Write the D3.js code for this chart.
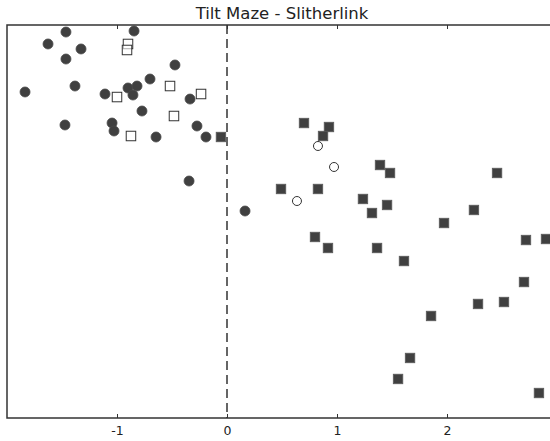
<!DOCTYPE html>
<html>
<head>
<meta charset="utf-8">
<script src="https://cdn.jsdelivr.net/npm/d3@7"></script>
<style>
  body { margin: 0; background: #fff; }
  text { font-family: "DejaVu Sans", sans-serif; fill: #222; }
</style>
</head>
<body>
<div id="chart"></div>
<script>
var width = 550;
var height = 441;

// [x, y] pairs
var filledCircles = [
    [-1.464, 6.875], [-0.845, 6.893], [-1.627, 6.662], [-1.327, 6.573],
    [-1.464, 6.394], [-0.473, 6.288], [-1.836, 5.807], [-1.382, 5.913],
    [-1.109, 5.771], [-0.900, 5.878], [-0.818, 5.913], [-0.700, 6.038],
    [-0.855, 5.753], [-0.336, 5.681], [-0.773, 5.468], [-1.473, 5.219],
    [-1.045, 5.254], [-1.027, 5.112], [-0.645, 5.005], [-0.273, 5.201],
    [-0.191, 5.005], [-0.345, 4.221], [0.164, 3.687]
];
var openSquares = [
    [-0.900, 6.662], [-0.909, 6.555], [-0.518, 5.913], [-0.236, 5.771],
    [-1.000, 5.717], [-0.482, 5.379], [-0.873, 5.023]
];
var filledSquares = [
    [-0.055, 5.005], [0.700, 5.254], [0.927, 5.183], [0.873, 5.023],
    [1.391, 4.506], [1.482, 4.364], [2.455, 4.364], [0.491, 4.079],
    [0.827, 4.079], [1.236, 3.901], [1.455, 3.794], [1.318, 3.651],
    [2.245, 3.705], [1.973, 3.473], [0.800, 3.224], [0.918, 3.028],
    [1.364, 3.028], [1.609, 2.796], [2.718, 3.170], [2.900, 3.188],
    [2.700, 2.422], [1.855, 1.817], [2.282, 2.031], [2.518, 2.066],
    [1.664, 1.069], [1.555, 0.695], [2.836, 0.445]
];
var openCircles = [
    [0.827, 4.845], [0.973, 4.471], [0.636, 3.865]
];
var xTicks = [-1, 0, 1, 2];
var title = "Tilt Maze - Slitherlink";

var margin = {left: 7, right: 557, top: 25, bottom: 418};

var x = d3.scaleLinear().domain([-2, 3]).range([margin.left, margin.right]);
var y = d3.scaleLinear().domain([0, 7]).range([margin.bottom, margin.top]);

var svg = d3.select("#chart")
    .append("svg")
    .attr("width", width)
    .attr("height", height);

// zero line
svg.append("line")
    .attr("x1", x(0)).attr("x2", x(0))
    .attr("y1", margin.top).attr("y2", margin.bottom)
    .style("stroke", "#333")
    .style("stroke-width", 1.5)
    .style("stroke-dasharray", "9,5");

var dark = "#404040";

svg.append("g").selectAll("circle")
    .data(filledCircles)
    .enter().append("circle")
    .attr("cx", d => x(d[0]))
    .attr("cy", d => y(d[1]))
    .attr("r", 5)
    .style("fill", dark)
    .style("stroke", "#4a4a4a")
    .style("stroke-width", 0.8);

var s = 9.5;
svg.append("g").selectAll("rect")
    .data(filledSquares)
    .enter().append("rect")
    .attr("x", d => x(d[0]) - s / 2)
    .attr("y", d => y(d[1]) - s / 2)
    .attr("width", s).attr("height", s)
    .style("fill", dark)
    .style("stroke", "#5a5a5a")
    .style("stroke-width", 0.8);

svg.append("g").selectAll("rect")
    .data(openSquares)
    .enter().append("rect")
    .attr("x", d => x(d[0]) - s / 2)
    .attr("y", d => y(d[1]) - s / 2)
    .attr("width", s).attr("height", s)
    .style("fill", "#fff")
    .style("fill-opacity", 0.6)
    .style("stroke", "#333")
    .style("stroke-width", 1);

svg.append("g").selectAll("circle")
    .data(openCircles)
    .enter().append("circle")
    .attr("cx", d => x(d[0]))
    .attr("cy", d => y(d[1]))
    .attr("r", 4.5)
    .style("fill", "#fff")
    .style("stroke", "#333")
    .style("stroke-width", 1);

// axes with inward ticks top and bottom
var xAxisBottom = svg.append("g")
    .attr("transform", "translate(0," + margin.bottom + ")")
    .call(d3.axisBottom(x).tickValues(xTicks).tickSize(-4).tickPadding(8)
        .tickFormat(d3.format("d")));
xAxisBottom.select(".domain").remove();
xAxisBottom.selectAll("line").style("stroke", "#333");
xAxisBottom.selectAll("text")
    .style("font-size", "12.5px")
    .style("font-family", "DejaVu Sans, sans-serif")
    .style("fill", "#222")
    .text(d => d < 0 ? "-" + Math.abs(d) : d);

var xAxisTop = svg.append("g")
    .attr("transform", "translate(0," + margin.top + ")")
    .call(d3.axisTop(x).tickValues(xTicks).tickSize(-4).tickFormat(""));
xAxisTop.select(".domain").remove();
xAxisTop.selectAll("line").style("stroke", "#333");

// frame
svg.append("rect")
    .attr("x", margin.left).attr("y", margin.top)
    .attr("width", margin.right - margin.left)
    .attr("height", margin.bottom - margin.top)
    .style("fill", "none")
    .style("stroke", "#333")
    .style("stroke-width", 1.5);

svg.append("text")
    .attr("x", (margin.left + margin.right) / 2)
    .attr("y", 19)
    .attr("text-anchor", "middle")
    .style("font-size", "16.5px")
    .text(title);
</script>
</body>
</html>
